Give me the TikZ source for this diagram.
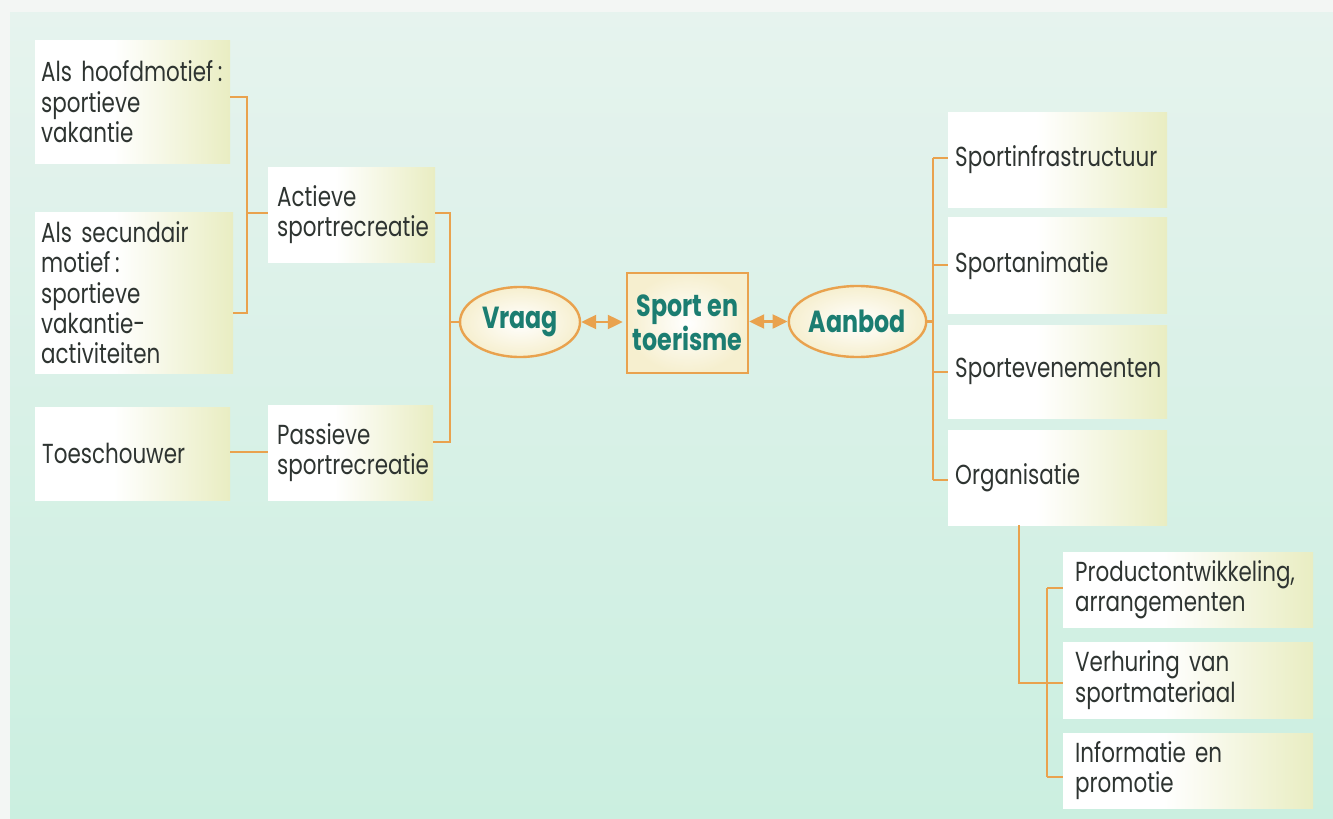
\documentclass[tikz,border=0pt]{standalone}
\usepackage{fontspec}
\setmainfont[FakeStretch=0.78]{Poppins}
\usetikzlibrary{arrows.meta,shapes.geometric,calc}
\definecolor{bgtop}{HTML}{E6F3EE}
\definecolor{bgbot}{HTML}{CBEFE0}
\definecolor{paper}{HTML}{F3F6F4}
\definecolor{boxr}{HTML}{E9EDC2}
\definecolor{orng}{HTML}{E9A24E}
\definecolor{teal}{HTML}{1B7D71}
\definecolor{ink}{HTML}{2E3431}
\definecolor{cream}{HTML}{F6EFCF}
\pgfdeclarehorizontalshading{boxshade}{100bp}{color(0bp)=(white); color(45bp)=(white); color(75bp)=(boxr); color(100bp)=(boxr)}
\begin{document}
\begin{tikzpicture}[x=1pt,y=-1pt,
  box/.style={anchor=north west,shading=boxshade,align=left,text=ink,
    font=\fontsize{27.5}{30.3}\selectfont,inner ysep=0pt},
  ell/.style={ellipse,draw=orng,line width=2.4pt,inner color=white,outer color=cream,
    text=teal,font=\bfseries\fontsize{30.5}{28}\selectfont,inner sep=0pt},
  hub/.style={rectangle,draw=orng,line width=2.4pt,inner color=white,outer color=cream,
    text=teal,font=\bfseries\fontsize{30.5}{28}\selectfont,align=center,inner sep=0pt},
  link/.style={draw=orng,line width=2.4pt},
  biarrow/.style={draw=orng,line width=2.2pt,{Triangle[length=15pt,width=14pt]}-{Triangle[length=15pt,width=14pt]}}
]
\useasboundingbox (0,0) rectangle (1333,819);
\fill[paper] (0,0) rectangle (1333,819);
\shade[top color=bgtop,bottom color=bgbot] (10,12) rectangle (1333,819);

% left column
\node[box,minimum width=195pt,minimum height=123pt,text width=183pt,inner xsep=6pt] (A) at (35,40)
  {Als hoofdmotief\,:\\sportieve\\vakantie};
\node[box,minimum width=198pt,minimum height=161pt,text width=186pt,inner xsep=6pt] (B) at (35,212)
  {Als secundair\\motief\,:\\sportieve\\vakantie-\\activiteiten};
\node[box,minimum width=195pt,minimum height=93pt,text width=181pt,inner xsep=7pt] (D) at (35,407)
  {Toeschouwer};
\node[box,minimum width=167pt,minimum height=95pt,text width=149pt,inner xsep=9pt] (C) at (268,167)
  {Actieve\\sportrecreatie};
\node[box,minimum width=165pt,minimum height=95pt,text width=147pt,inner xsep=9pt] (E) at (268,405)
  {Passieve\\sportrecreatie};

% centre
\node[ell,minimum width=120pt,minimum height=70pt] (V) at (520,322) {Vraag};
\node[hub,minimum width=121pt,minimum height=100pt] (S) at (687.5,323) {Sport en\\toerisme};
\node[ell,minimum width=119pt,minimum height=71pt] (N) at (857.5,321.5) {Aanbod};

% right column
\node[box,minimum width=219pt,minimum height=95pt,text width=205pt,inner xsep=7pt] (R1) at (948,112) {Sportinfrastructuur};
\node[box,minimum width=219pt,minimum height=96pt,text width=205pt,inner xsep=7pt] (R2) at (948,217) {Sportanimatie};
\node[box,minimum width=219pt,minimum height=93pt,text width=205pt,inner xsep=7pt] (R3) at (948,325) {Sportevenementen};
\node[box,minimum width=219pt,minimum height=95pt,text width=205pt,inner xsep=7pt] (R4) at (948,430) {Organisatie};

\node[box,minimum width=250pt,minimum height=75pt,text width=226pt,inner xsep=12pt] (S1) at (1063,552) {Productontwikkeling,\\arrangementen};
\node[box,minimum width=250pt,minimum height=76pt,text width=226pt,inner xsep=12pt] (S2) at (1063,642) {Verhuring van\\sportmateriaal};
\node[box,minimum width=250pt,minimum height=75pt,text width=226pt,inner xsep=12pt] (S3) at (1063,733) {Informatie en\\promotie};

% connectors left
\coordinate (lb1) at (247,97);
\coordinate (lb2) at (247,313);
\coordinate (lbm) at (247,213);
\draw[link] (A.east |- lb1) -- (lb1) -- (lb2) -- (B.east |- lb2);
\draw[link] (lbm) -- (C.west |- lbm);
\coordinate (de) at (232,452);
\draw[link] (D.east |- de) -- (E.west |- de);
\coordinate (cb1) at (450,213);
\coordinate (cb2) at (450,442);
\coordinate (cbm) at (450,322);
\draw[link] (C.east |- cb1) -- (cb1) -- (cb2) -- (E.east |- cb2);
\draw[link] (cbm) -- (V.west);

% arrows
\draw[biarrow] (V.east) -- ([xshift=-3pt]S.west |- V.east);
\draw[biarrow] (S.east |- N.west) -- (N.west);

% connectors right
\coordinate (rb1) at (933,158);
\coordinate (rb2) at (933,265);
\coordinate (rb3) at (933,372);
\coordinate (rb4) at (933,480);
\draw[link] (N.east) -- (N.east -| rb1);
\draw[link] (rb1) -- (rb4);
\draw[link] (rb1) -- (R1.west |- rb1);
\draw[link] (rb2) -- (R2.west |- rb2);
\draw[link] (rb3) -- (R3.west |- rb3);
\draw[link] (rb4) -- (R4.west |- rb4);

% organisatie sub-branches
\coordinate (ob) at (1019,683);
\coordinate (sb1) at (1047,588);
\coordinate (sb3) at (1047,777);
\draw[link] (R4.south -| ob) -- (ob) -- (S2.west |- ob);
\draw[link] (sb1) -- (sb3);
\draw[link] (sb1) -- (S1.west |- sb1);
\draw[link] (sb3) -- (S3.west |- sb3);
\end{tikzpicture}
\end{document}
